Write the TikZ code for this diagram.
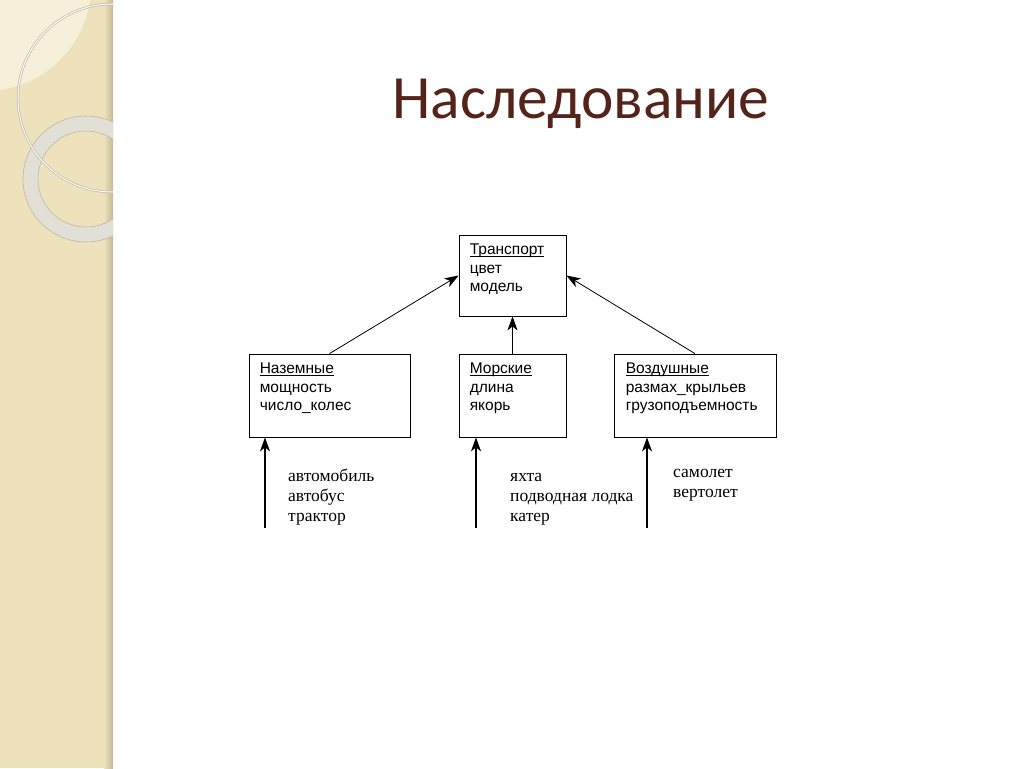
\documentclass[tikz,border=0pt]{standalone}
\usepackage{fontspec}
\setmainfont{Liberation Serif}
\newfontfamily\classfont{Liberation Sans}
\newfontfamily\slidefont{Carlito}
\usetikzlibrary{arrows.meta}
\definecolor{bandbeige}{RGB}{237,226,188}
\definecolor{bandlight}{RGB}{246,239,217}
\definecolor{bandedge}{RGB}{196,184,150}
\definecolor{ringgray}{RGB}{226,224,214}
\definecolor{ringedge}{RGB}{190,183,163}
\definecolor{titlebrown}{RGB}{84,36,26}
\newcommand\clsname[1]{\underline{\smash{#1}}}
\tikzset{
  cls/.style={draw, line width=0.8pt, inner sep=0pt},
  attrs/.style={font=\classfont\fontsize{15.5}{18.5}\selectfont, align=left, anchor=north west, inner sep=0pt},
  objs/.style={font=\fontsize{17.5}{20}\selectfont, align=left, anchor=north west, inner sep=0pt},
  inh/.style={-{Stealth[length=14pt,width=10pt,inset=4pt]}, line width=0.8pt},
}
\begin{document}
\begin{tikzpicture}[x=1pt,y=-1pt]
  \useasboundingbox (0,0) rectangle (1024,768);
  \fill[white] (0,0) rectangle (1024,768);
  % left strip
  \begin{scope}
    \clip (0,0) rectangle (113,768);
    \fill[bandbeige] (0,0) rectangle (113,768);
    \shade[left color=bandbeige, right color=bandedge] (104,0) rectangle (113,768);
    \fill[bandlight] (-15,-15) circle (106);
    \fill[ringgray, even odd rule] (86,179) circle (63) (86,179) circle (48);
    \draw[ringedge, line width=0.6pt] (86,179) circle (63) (86,179) circle (48);
    \draw[ringedge, line width=2.4pt] (112,98) circle (94);
    \draw[white, line width=1pt] (112,98) circle (94);
  \end{scope}

  \node[font=\slidefont\fontsize{61.5}{62}\selectfont, text=titlebrown, anchor=base] (title) at (581,118) {Наследование};

  % classes
  \node[cls, minimum width=107, minimum height=81] (transport) at (512.5,275.5) {};
  \node[cls, minimum width=161, minimum height=83] (naz) at (329.5,395.5) {};
  \node[cls, minimum width=107, minimum height=83] (mor) at (512.5,395.5) {};
  \node[cls, minimum width=162, minimum height=83] (vozd) at (695,395.5) {};

  \node[attrs] (transport attrs) at ([xshift=11pt,yshift=-7pt]transport.north west) {\strut\clsname{Транспорт}\\цвет\\модель};
  \node[attrs] (naz attrs) at ([xshift=11pt,yshift=-7pt]naz.north west) {\strut\clsname{Наземные}\\мощность\\число\_колес};
  \node[attrs] (mor attrs) at ([xshift=11pt,yshift=-7pt]mor.north west) {\strut\clsname{Морские}\\длина\\якорь};
  \node[attrs] (vozd attrs) at ([xshift=12pt,yshift=-7pt]vozd.north west) {\strut\clsname{Воздушные}\\размах\_крыльев\\грузоподъемность};

  % objects
  \node[objs] (naz objs) at (288,467) {\strut автомобиль\\автобус\\трактор};
  \node[objs] (mor objs) at (510,467) {\strut яхта\\подводная лодка\\катер};
  \node[objs] (vozd objs) at (673,463) {\strut самолет\\вертолет};

  \draw[inh] (naz.north) -- (transport.west);
  \draw[inh] (mor.north) -- (transport.south);
  \draw[inh] (vozd.north) -- (transport.east);
  \foreach \grp/\x in {naz/265,mor/476,vozd/647}{
    \coordinate (\grp src) at (\x,528);
    \draw[inh, line width=1.1pt] (\grp src) -- (\grp src |- \grp.south);
  }
\end{tikzpicture}
\end{document}
